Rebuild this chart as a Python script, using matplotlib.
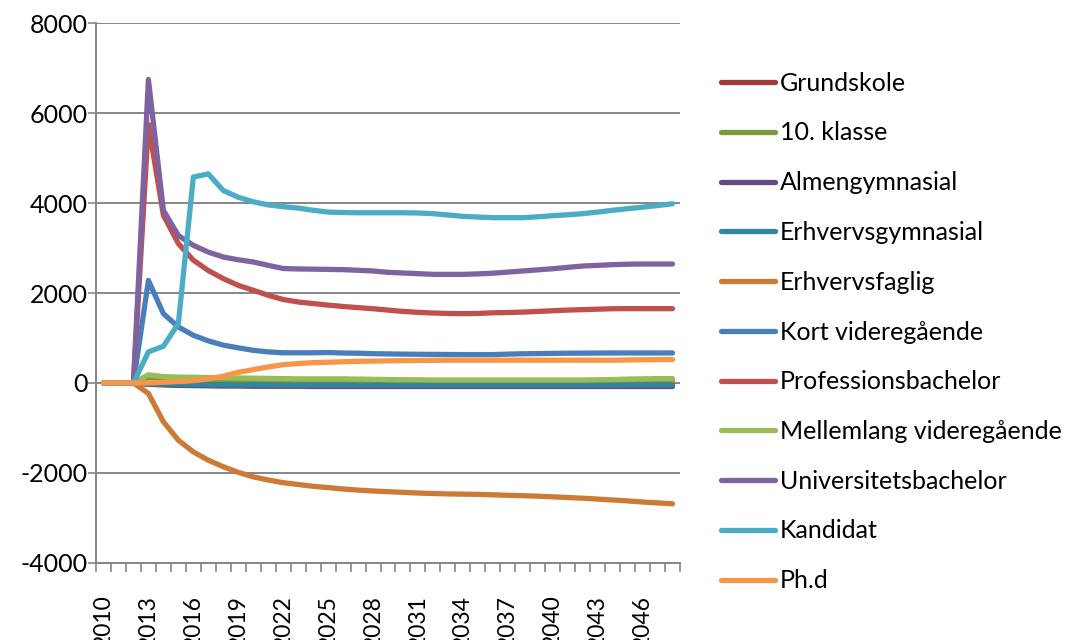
import numpy as np
from matplotlib import pyplot as plt

# années 2010 - 2048
years = list(range(2010, 2049))

series_names = ["Grundskole", "10. klasse", "Almengymnasial", "Erhvervsgymnasial",
                "Erhvervsfaglig", "Kort videregående", "Professionsbachelor",
                "Mellemlang videregående", "Universitetsbachelor", "Kandidat", "Ph.d"]

grundskole = [0, 0, 0, -20, -35, -45, -50, -50, -50, -50, -50, -50, -50, -50, -50, -50,
              -50, -50, -50, -50, -50, -50, -50, -50, -50, -50, -50, -50, -50, -50,
              -50, -50, -50, -50, -50, -50, -50, -50, -50]
klasse10 = [0, 0, 0, 120, 90, 80, 75, 70, 65, 60, 55, 50, 50, 45, 45, 45,
            40, 40, 40, 40, 40, 40, 40, 40, 40, 40, 40, 40, 40, 40,
            40, 40, 40, 40, 40, 45, 45, 50, 50]
almengym = [0, 0, 0, -30, -45, -55, -60, -65, -70, -70, -75, -75, -75, -75, -80, -80,
            -80, -80, -80, -80, -80, -80, -80, -80, -80, -80, -80, -80, -80, -80,
            -80, -80, -80, -80, -80, -80, -80, -80, -80]
erhvervsgym = [0, 0, 0, -15, -25, -30, -35, -40, -40, -45, -45, -45, -50, -50, -50, -50,
               -50, -50, -50, -50, -50, -50, -50, -50, -50, -50, -50, -50, -50, -50,
               -50, -50, -50, -50, -50, -50, -45, -45, -45]
erhvervsfaglig = [0, 0, 0, -235, -865, -1275, -1535, -1720, -1865, -1990, -2090, -2160,
                  -2220, -2260, -2300, -2330, -2360, -2385, -2405, -2420, -2435, -2450,
                  -2460, -2470, -2475, -2480, -2490, -2500, -2510, -2520, -2535, -2550,
                  -2565, -2585, -2605, -2625, -2650, -2670, -2690]
kort = [0, 0, 0, 2280, 1540, 1245, 1060, 935, 840, 780, 725, 690, 670, 670, 670, 675,
        665, 660, 650, 645, 640, 637, 635, 632, 630, 630, 630, 640, 648, 652,
        656, 660, 662, 664, 666, 666, 666, 666, 666]
profbach = [0, 0, 0, 5750, 3730, 3100, 2730, 2500, 2320, 2170, 2060, 1950, 1855, 1800,
            1765, 1730, 1700, 1675, 1650, 1620, 1590, 1570, 1555, 1545, 1540, 1545,
            1560, 1565, 1575, 1590, 1605, 1620, 1630, 1640, 1650, 1652, 1652, 1652, 1652]
mellemlang = [0, 0, 0, 180, 140, 130, 125, 120, 115, 110, 105, 100, 95, 90, 90, 90,
              90, 85, 80, 75, 70, 70, 65, 65, 65, 65, 65, 65, 65, 65,
              65, 65, 65, 70, 75, 85, 90, 95, 95]
unibach = [0, 0, 0, 6750, 3840, 3280, 3060, 2910, 2800, 2740, 2690, 2615, 2545, 2535,
           2530, 2525, 2520, 2505, 2490, 2460, 2445, 2430, 2415, 2415, 2415, 2425,
           2440, 2465, 2490, 2515, 2540, 2570, 2600, 2615, 2630, 2640, 2645, 2645, 2645]
kandidat = [0, 0, 0, 690, 815, 1320, 4580, 4650, 4280, 4130, 4030, 3960, 3920, 3890,
            3840, 3800, 3790, 3785, 3785, 3785, 3785, 3780, 3765, 3735, 3705, 3690,
            3675, 3675, 3675, 3695, 3720, 3740, 3765, 3800, 3840, 3875, 3910, 3945, 3985]
phd = [0, 0, 0, 0, 15, 30, 50, 90, 150, 235, 295, 355, 405, 430, 450, 460,
       470, 480, 485, 490, 495, 500, 503, 505, 505, 505, 505, 505, 505, 505,
       505, 505, 505, 505, 505, 510, 515, 518, 520]

colors = ['#9E3B39', '#7B9A3E', '#634A80', '#31869D', '#CD7A35', '#4A7EBB',
          '#C0504D', '#9BBB59', '#7F63A1', '#4BACC6', '#F79646']
all_series = [grundskole, klasse10, almengym, erhvervsgym, erhvervsfaglig, kort,
              profbach, mellemlang, unibach, kandidat, phd]

plt.rcParams['font.family'] = ['Lato', 'DejaVu Sans']
plt.rcParams['axes.unicode_minus'] = False
fs = 18
grid_col = '#868686'

fig = plt.figure(figsize=(10.66, 6.4), dpi=100)
ax = fig.add_axes([96 / 1066, 1 - 562.7 / 640, 584 / 1066, 539.4 / 640])

x = np.arange(len(years))
for name, vals, col in zip(series_names, all_series, colors):
    ax.plot(x, vals, color=col, lw=3.8, label=name, solid_capstyle='round',
            solid_joinstyle='round')

ax.set_xlim(-0.5, len(years) - 0.5)
ax.set_ylim(-4000, 8000)
ax.set_yticks(range(-4000, 8001, 2000))
ax.yaxis.grid(True, color=grid_col, lw=1.4)
ax.set_axisbelow(True)

ax.set_xticks(x[::3])
ax.set_xticklabels([str(y) for y in years[::3]], rotation=90, va='top', ha='center')
ax.set_xticks(np.arange(-0.5, len(years), 1), minor=True)
ax.tick_params(axis='x', which='major', length=0, pad=23, labelsize=16.5)
ax.tick_params(axis='x', which='minor', length=6.5, width=1.2, color=grid_col, direction='out')
ax.tick_params(axis='y', length=5.5, width=1.2, color=grid_col, pad=0.5, labelsize=fs)

for s in ['top', 'right']:
    ax.spines[s].set_visible(False)
for s in ['left', 'bottom']:
    ax.spines[s].set_color(grid_col)
    ax.spines[s].set_linewidth(1.4)

leg = fig.legend(loc='center left', bbox_to_anchor=(721 / 1066, 1 - 332 / 640),
                 frameon=False, fontsize=fs, handlelength=2.15, handletextpad=0.2,
                 labelspacing=1.07, borderpad=0, borderaxespad=0)
for line in leg.get_lines():
    line.set_linewidth(3.8)

fig.savefig('out.png', dpi=100)
